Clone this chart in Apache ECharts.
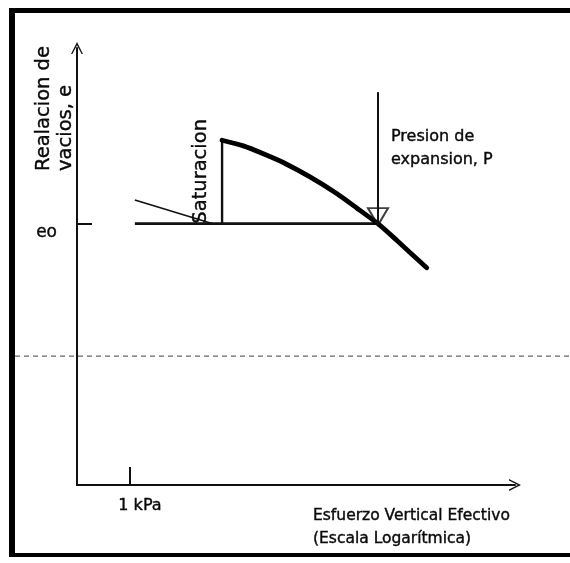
<!DOCTYPE html>
<html>
<head>
<meta charset="utf-8">
<script src="https://cdn.jsdelivr.net/npm/echarts@6/dist/echarts.min.js"></script>
<style>
html,body{margin:0;padding:0;background:#fff;}
#c{width:570px;height:563px;}
</style>
</head>
<body>
<div id="c"></div>
<script>
// ---- data (schematic values) ----
// x: effective vertical stress (kPa, log scale); y: void ratio e
var xRange = [0.2, 120000];
var yRange = [0, 1];
var e0 = 0.598;
var tickX = [1];               // "1 kPa"
var tickXLabels = ['1 kPa'];
var tickY = [e0];              // "eo"
var tickYLabels = ['eo'];
// initial sloped line (before saturation)
var slopeX = [1.16, 12.4];
var slopeY = [0.652, 0.598];
// horizontal line at e0 up to swelling pressure
var flatX = [1.16, 1870];
var flatY = [e0, e0];
// saturation (vertical jump)
var satX = [16.4, 16.4];
var satY = [e0, 0.789];
// compression curve after saturation
var curveX = [16.4, 31.3, 57.4, 105, 237, 533, 979, 1870, 3300, 8210];
var curveY = [0.789, 0.776, 0.758, 0.738, 0.705, 0.667, 0.634, 0.598, 0.560, 0.497];
// swelling pressure arrow
var pX = 1870;
var arrowY = [0.899, 0.614];
var dottedY = 0.295;

function pairs(xs, ys){ return xs.map(function(x,i){ return [x, ys[i]]; }); }

var FONT = 'DejaVu Sans';
var INK = '#0a0a0a';
var chevron = 'path://M0,12 L6,0 L12,12 L10.6,12 L6,3.2 L1.4,12 Z';

var chart = echarts.init(document.getElementById('c'), null, {renderer:'canvas'});
var option = {
  animation: false,
  backgroundColor: '#fff',
  grid: {left: 77, right: 55, top: 48, bottom: 78, containLabel: false},
  xAxis: {
    type: 'log', logBase: 10, min: xRange[0], max: xRange[1],
    splitLine: {show: false},
    axisLine: {show: true, lineStyle: {color: '#111', width: 2},
      symbol: ['none', chevron], symbolSize: [12, 14]},
    axisTick: {show: true, inside: true, length: 18, customValues: tickX,
      lineStyle: {color: '#111', width: 2}},
    axisLabel: {show: true, customValues: tickX, formatter: function(){ return tickXLabels[0]; },
      fontFamily: FONT, fontSize: 16, color: INK, margin: 13, padding: [0,0,0,20],
      textBorderColor: INK, textBorderWidth: 0.4},
    minorTick: {show: false}
  },
  yAxis: {
    type: 'value', min: yRange[0], max: yRange[1],
    splitLine: {show: false},
    axisLine: {show: true, lineStyle: {color: '#111', width: 2},
      symbol: ['none', chevron], symbolSize: [12, 14]},
    axisTick: {show: true, inside: true, length: 15, customValues: tickY,
      lineStyle: {color: '#111', width: 2}},
    axisLabel: {show: true, customValues: tickY, formatter: function(){ return tickYLabels[0]; },
      fontFamily: FONT, fontSize: 17, color: INK, margin: 20, verticalAlign: 'top',
      textBorderColor: INK, textBorderWidth: 0.4}
  },
  series: [
    {type: 'line', data: pairs(slopeX, slopeY), symbol: 'none',
      lineStyle: {color: '#111', width: 1.6}},
    {type: 'line', data: pairs(flatX, flatY), symbol: 'none',
      lineStyle: {color: '#111', width: 2.6}},
    {type: 'line', data: pairs(satX, satY), symbol: 'none',
      lineStyle: {color: '#111', width: 2.4}},
    {type: 'line', data: pairs(curveX, curveY), symbol: 'none', smooth: 0.2,
      lineStyle: {color: '#000', width: 4.8, cap: 'round', join: 'round'}},
    {type: 'line', data: pairs([pX, pX], [arrowY[0], e0]), symbol: 'none',
      lineStyle: {color: '#111', width: 2}, z: 6},
    {type: 'scatter', data: [[pX, arrowY[1]]], symbol: 'triangle', symbolRotate: 180,
      symbolSize: [20, 17], itemStyle: {color: 'rgba(255,255,255,0)', borderColor: '#111', borderWidth: 2}, z: 5}
  ]
};
chart.setOption(option);

// text & frame positioned through the chart's own scales
var pSat = chart.convertToPixel({gridIndex: 0}, [satX[0], e0]);
var pArr = chart.convertToPixel({gridIndex: 0}, [pX, 0.82]);
var pDot = chart.convertToPixel({gridIndex: 0}, [xRange[0], dottedY]);

function txt(x, y, text, size, rot, lh){
  return {type: 'text', x: x, y: y, rotation: rot || 0,
    style: {text: text, font: size + 'px "' + FONT + '"', fill: INK, stroke: INK, lineWidth: 0.4,
      textAlign: 'left', textVerticalAlign: 'top', lineHeight: lh || size}};
}

chart.setOption({
  graphic: [
    // frame
    {type: 'rect', shape: {x: 9, y: 8, width: 6, height: 549}, style: {fill: '#000'}},
    {type: 'rect', shape: {x: 9, y: 8, width: 561, height: 5}, style: {fill: '#000'}},
    {type: 'rect', shape: {x: 9, y: 553, width: 561, height: 4}, style: {fill: '#000'}},
    // faint dashed scan line
    {type: 'line', shape: {x1: 15, y1: pDot[1], x2: 570, y2: pDot[1]},
      style: {stroke: '#666', lineWidth: 1.3, lineDash: [5, 4]}},
    // y axis title
    txt(33, 171, 'Realacion de\nvacios, e', 19.5, Math.PI/2, 22),
    // x axis title
    txt(313, 504, 'Esfuerzo Vertical Efectivo\n(Escala Logarítmica)', 15.5, 0, 23),
    // saturation label
    txt(pSat[0] - 31, pSat[1], 'Saturacion', 19.5, Math.PI/2, 20),
    // swelling pressure label
    txt(pArr[0] + 13, pArr[1] - 1, 'Presion de\nexpansion, P', 16, 0, 23)
  ]
});
</script>
</body>
</html>
